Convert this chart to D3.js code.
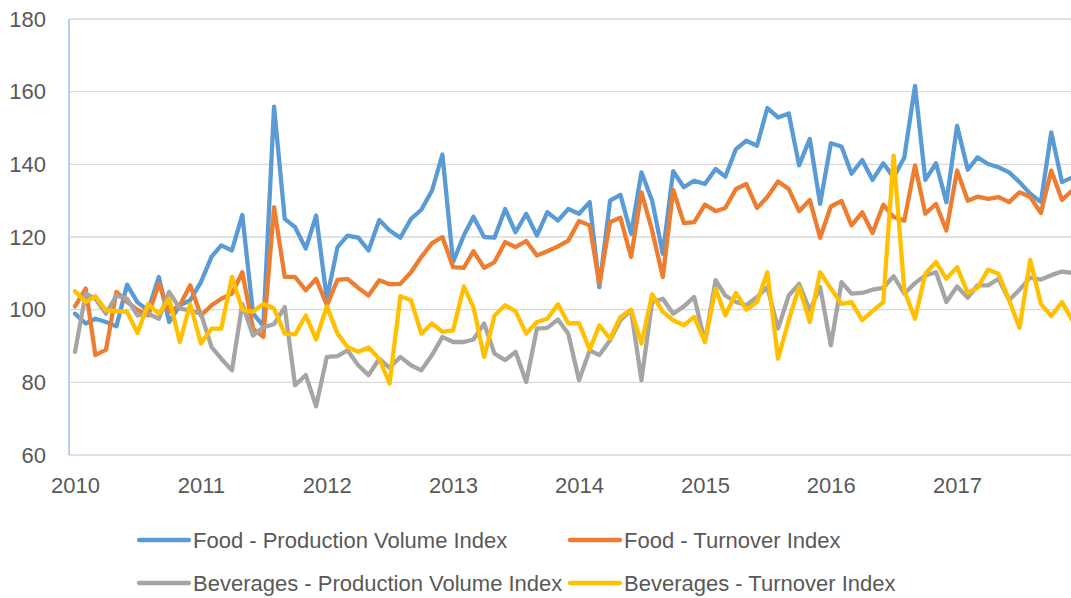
<!DOCTYPE html>
<html>
<head>
<meta charset="utf-8">
<script src="https://cdn.jsdelivr.net/npm/d3@7"></script>
<style>
  html, body { margin: 0; padding: 0; background: #fff; }
  svg text { font-family: "Liberation Sans", Arial, sans-serif; fill: #595959; }
</style>
</head>
<body>
<div id="chart-root"></div>
<script>
// monthly index values, Jan 2010 .. Dec 2017
const food_pvi = [
  98.9, 96.2, 97.5, 96.6, 95.4, 106.9, 102, 99.8, 109, 96.6, 101.2, 102.6,
  107.6, 114.6, 117.7, 116.3, 126.1, 99, 95.5, 155.9, 125, 122.7, 116.8, 125.9,
  103, 117.2, 120.4, 119.8, 116.3, 124.7, 121.8, 119.8, 125, 127.5, 132.8, 142.7,
  113.1, 120.4, 125.6, 120, 119.8, 127.7, 121.3, 126.4, 120.4, 126.8, 124.5, 127.7,
  126.4, 129.6, 106.2, 130, 131.6, 120.9, 137.8, 130, 115.4, 138.1, 133.7, 135.5,
  134.6, 138.7, 136.6, 144.2, 146.5, 145.1, 155.5, 152.9, 154, 139.7, 147, 129.1,
  145.8, 144.9, 137.4, 141.2, 135.7, 140.3, 136.4, 141.9, 161.6, 135.7, 140.3, 129.6,
  150.6, 138.5, 141.9, 140.1, 139.2, 137.8, 135.1, 131.9, 129.6, 148.8, 135.1, 136.4
];
const food_turnover = [
  100.9, 105.8, 87.5, 89, 104.9, 102.1, 100, 98.4, 107.1, 99.4, 101.2, 106.7,
  98.4, 101.2, 103, 104.4, 110.3, 94.8, 92.5, 128.2, 109, 109, 105.3, 108.5,
  101.2, 108.2, 108.5, 106, 103.9, 108.1, 107, 107.1, 110.3, 114.5, 118.3, 120,
  111.7, 111.5, 116.1, 111.5, 113.1, 118.6, 117.2, 118.9, 114.9, 116.1, 117.4, 119,
  124.4, 123.2, 107.1, 124.1, 125.3, 114.5, 132.3, 121.8, 109, 133, 123.8, 124.1,
  128.9, 127.1, 128, 133.2, 134.6, 128, 131, 135.3, 133.2, 127.1, 130.2, 119.8,
  128.4, 129.9, 123.2, 126.8, 121.1, 128.9, 125.5, 124.5, 139.7, 126.4, 129.1, 121.8,
  138.3, 130, 131.1, 130.5, 131, 129.6, 132.3, 131, 126.6, 138.3, 130.2, 132.8
];
const bev_pvi = [
  88.4, 104.4, 103, 98.9, 103.9, 103, 98.4, 98.9, 97.5, 104.9, 100.3, 99.8,
  98.9, 89.7, 86.5, 83.3, 101.6, 92.9, 95.2, 96, 100.7, 79.2, 82, 73.4,
  87, 87.2, 88.8, 84.7, 82, 86.5, 84, 87, 84.7, 83.3, 87.5, 92.5,
  91.1, 91.1, 91.8, 96.2, 87.9, 86.1, 88.4, 80.1, 94.8, 95, 97.3, 93.4,
  80.6, 88.8, 87.5, 91.6, 97.1, 99.8, 80.6, 102.1, 103, 98.9, 100.9, 103.5,
  91.1, 108.1, 103.9, 102.1, 101.2, 103.5, 106.2, 94.8, 103.9, 107.1, 99.8, 106.2,
  90.2, 107.6, 104.4, 104.6, 105.5, 106, 109.2, 104.4, 107.3, 109.4, 110.3, 102.1,
  106.4, 103.3, 106.7, 106.7, 108.5, 102.6, 105.5, 108.8, 108.3, 109.5, 110.5, 110.1
];
const bev_turnover = [
  105.1, 102.1, 103.7, 99.8, 99.6, 99.4, 93.6, 101.5, 98.9, 103, 91.1, 101.5,
  90.7, 94.8, 94.8, 109, 100, 99.4, 101.6, 100.3, 93.4, 93.2, 98.4, 91.8,
  100.9, 93.4, 89.7, 88.4, 89.6, 86.5, 79.7, 103.7, 102.6, 93.4, 96.2, 93.9,
  94.3, 106.4, 100.7, 87, 98.4, 101.2, 99.6, 93.4, 96.6, 97.5, 101.5, 96.2,
  96.3, 89, 95.7, 92, 98, 100, 90.7, 104.2, 99.4, 97.1, 95.7, 98,
  91.1, 105.8, 98.4, 104.6, 100, 102.1, 110.3, 86.5, 97.1, 106.2, 96.6, 110.3,
  105.8, 101.6, 102.1, 97.1, 99.6, 102.1, 142.4, 105.3, 97.5, 109.9, 113.1, 108.5,
  111.7, 104.6, 106, 111, 109.9, 102.6, 95, 113.7, 101.6, 98.2, 102.1, 97.1
];
const y_ticks = [60, 80, 100, 120, 140, 160, 180];
const series_names = [
  'Food - Production Volume Index',
  'Food - Turnover Index',
  'Beverages - Production Volume Index',
  'Beverages - Turnover Index'
];
const series_colors = ['#5b9bd5', '#ed7d31', '#a5a5a5', '#ffc000'];

const months = d3.timeMonth.range(new Date(2010, 0, 1), new Date(2018, 0, 1));
const all_series = [food_pvi, food_turnover, bev_pvi, bev_turnover].map((vals, k) => ({
  name: series_names[k],
  color: series_colors[k],
  values: vals.map((v, i) => ({date: months[i], value: v}))
}));

var width = 1071, height = 598;
var plot = {left: 69, right: 1071, top: 19, bottom: 455};

var svg = d3.select('#chart-root').append('svg')
    .attr('width', width)
    .attr('height', height);

var x_scale = d3.scaleTime()
    .domain([new Date(2010, 0, 1), new Date(2018, 0, 1)])
    .range([75, 1083]);
var y_scale = d3.scaleLinear()
    .domain([60, 180])
    .range([plot.bottom, plot.top]);

// horizontal gridlines
svg.append('g').selectAll('line')
    .data(y_ticks)
    .join('line')
    .attr('x1', plot.left).attr('x2', plot.right)
    .attr('y1', d => y_scale(d)).attr('y2', d => y_scale(d))
    .attr('stroke', '#d9d9d9')
    .attr('stroke-width', 1.3);

// vertical axis line
svg.append('line')
    .attr('x1', plot.left).attr('x2', plot.left)
    .attr('y1', plot.top).attr('y2', plot.bottom)
    .attr('stroke', '#9dc3e6')
    .attr('stroke-width', 1.5);

var y_axis = svg.append('g')
    .attr('transform', 'translate(' + plot.left + ',0)')
    .call(d3.axisLeft(y_scale).tickValues(y_ticks).tickSize(0).tickPadding(23));
y_axis.select('.domain').remove();

var x_axis = svg.append('g')
    .attr('transform', 'translate(0,' + plot.bottom + ')')
    .call(d3.axisBottom(x_scale)
        .ticks(d3.timeYear.every(1))
        .tickFormat(d3.timeFormat('%Y'))
        .tickSize(0).tickPadding(22));
x_axis.select('.domain').remove();
x_axis.selectAll('.tick').filter(d => d.getFullYear() > 2017).remove();

svg.selectAll('.tick text')
    .attr('font-family', '"Liberation Sans", Arial, sans-serif')
    .attr('font-size', 22)
    .attr('fill', '#595959');

var line = d3.line()
    .x(d => x_scale(d.date))
    .y(d => y_scale(d.value));

svg.append('g')
    .selectAll('path')
    .data(all_series)
    .join('path')
    .attr('d', d => line(d.values))
    .attr('fill', 'none')
    .attr('stroke', d => d.color)
    .attr('stroke-width', 4.3)
    .attr('stroke-linejoin', 'round')
    .attr('stroke-linecap', 'round');

// legend, two rows by two columns
var legend_cols = [137, 568];
var legend_rows = [540, 583];
var legend = svg.append('g')
    .selectAll('g')
    .data(all_series)
    .join('g')
    .attr('transform', (d, i) =>
        'translate(' + legend_cols[i % 2] + ',' + legend_rows[Math.floor(i / 2)] + ')');

legend.append('line')
    .attr('x1', 2).attr('x2', 52)
    .attr('y1', 0).attr('y2', 0)
    .attr('stroke', d => d.color)
    .attr('stroke-width', 4.3)
    .attr('stroke-linecap', 'round');

legend.append('text')
    .attr('x', 56)
    .attr('y', 0)
    .attr('dy', '0.35em')
    .attr('font-size', 22)
    .text(d => d.name);
</script>
</body>
</html>
